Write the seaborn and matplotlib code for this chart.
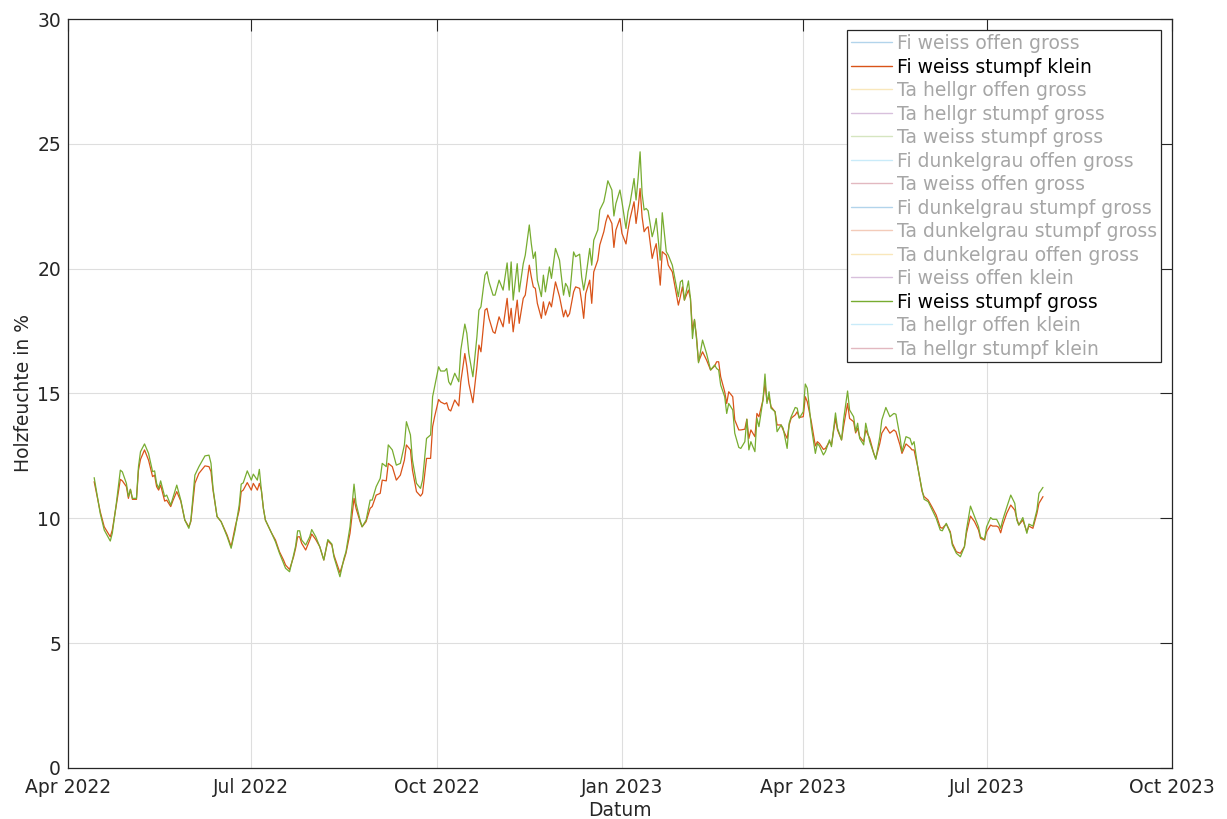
import pandas as pd
import seaborn as sns
import matplotlib.pyplot as plt
import matplotlib.dates as mdates
from matplotlib.lines import Line2D

sns.set_theme(style='white')
plt.rcParams['font.family'] = ['DejaVu Sans']

# Messbeginn, Tage seit 1. April 2022
start = pd.Timestamp('2022-04-01')
tage = [13, 16, 18, 21, 22, 24, 26, 27, 29, 30, 31, 32, 34, 35, 36, 38, 40, 42, 43, 44,
        45, 46, 48, 49, 51, 52, 54, 56, 58, 60, 61, 63, 65, 68, 70, 71, 72, 74, 76, 79,
        81, 83, 85, 86, 87,
        89, 91, 92, 94, 95, 96, 97, 98, 101, 103, 105, 107, 108, 110, 112, 113, 114, 115, 116, 118,
        120, 121, 123, 125, 127, 129, 131, 132, 135, 137, 138, 140, 142, 143, 145, 146, 148, 150, 151, 153,
        155, 156, 158, 159, 161, 163, 165, 167, 168, 170, 171, 173, 175, 176, 178, 180,
        181, 182, 184, 185, 187, 188, 189, 190, 192, 194, 195, 197, 198, 199, 201, 203, 204, 205, 207, 208,
        209, 211, 212, 214, 216, 218, 219, 220, 221, 223, 224, 226, 227, 229, 230, 231, 232, 233, 235, 236,
        237, 239, 240,
        242, 244, 246, 247, 248, 249, 251, 252, 254, 255, 256, 257, 259, 260, 261, 263, 264, 266, 267, 268,
        270, 271, 272, 274, 275, 277, 278, 279, 281, 282, 283, 284, 285, 286, 287, 288, 290, 291, 292, 294,
        295, 297, 298, 300, 303, 304,
        305, 306, 308, 309, 310, 311, 312, 313, 315, 317, 319, 321, 322, 323, 324, 326, 327, 328, 330, 331,
        333, 334, 336, 337, 338, 339, 341, 342, 343, 345, 346, 347, 348, 349, 351, 352, 354, 355, 357, 358,
        359, 361, 362, 363, 365, 366, 367, 369, 371,
        372, 373, 375, 376, 378, 379, 381, 382, 384, 385, 387, 388, 390, 391, 392, 393, 395, 396, 398, 400,
        401, 403, 404, 406, 408, 410, 411, 413, 414, 416, 418, 419, 420, 422,
        424, 425, 427, 429, 431, 433, 434, 436, 438, 439, 441, 443, 445, 446, 448, 450, 452, 453, 455, 456,
        458, 459, 461, 462, 463, 464, 466, 468, 470, 471, 472, 474, 476, 477, 479, 481, 482, 484]

fi_weiss_stumpf_klein = [
    11.47, 10.27, 9.66, 9.26, 9.53, 10.53, 11.56, 11.5, 11.27, 10.8, 11.16, 10.76, 10.76, 11.93, 12.36, 12.74, 12.33, 11.67, 11.73, 11.27,
    11.13, 11.33, 10.69, 10.73, 10.47, 10.69, 11.07, 10.69, 9.93, 9.66, 9.87, 11.4, 11.8, 12.1, 12.07, 11.87, 11.13, 10.07, 9.87, 9.33,
    8.86, 9.66, 10.33, 11.07, 11.13,
    11.43, 11.13, 11.4, 11.13, 11.4, 11.13, 10.4, 9.93, 9.42, 9.13, 8.66, 8.33, 8.13, 7.95, 8.46, 8.8, 9.26, 9.26, 9.0, 8.73,
    9.13, 9.37, 9.15, 8.86, 8.33, 9.1, 8.93, 8.53, 7.82, 8.33, 8.6, 9.4, 10.8, 10.4, 9.87, 9.66, 9.87, 10.4, 10.47, 10.93,
    11.0, 11.53, 11.5, 12.2, 12.07, 11.53, 11.73, 12.33, 12.94, 12.74, 11.93, 11.07, 10.89, 11.0, 12.4, 12.4,
    13.67, 14.07, 14.76, 14.66, 14.58, 14.63, 14.36, 14.3, 14.74, 14.5, 15.47, 16.6, 16.07, 15.4, 14.63, 16.07, 16.94, 16.67, 18.34, 18.41,
    18.01, 17.47, 17.41, 18.07, 17.67, 18.81, 17.81, 18.41, 17.47, 18.74, 17.81, 18.81, 18.94, 20.14, 19.67, 19.27, 19.21, 18.61, 18.01, 18.67,
    18.14, 18.67, 18.47,
    19.47, 18.88, 18.07, 18.34, 18.07, 18.2, 19.07, 19.27, 19.21, 18.67, 18.01, 19.0, 19.54, 18.61, 19.87, 20.34, 20.95, 21.48, 21.88, 22.15,
    21.81, 20.85, 21.55, 22.01, 21.41, 20.99, 21.55, 22.0, 22.68, 21.81, 22.41, 23.21, 22.07, 21.48, 21.61, 21.68, 20.41, 20.74, 21.0, 19.34,
    20.68, 20.54, 20.14, 19.87, 18.54, 18.88,
    19.27, 18.74, 19.14, 18.81, 17.54, 17.94, 17.27, 16.27, 16.67, 16.34, 15.94, 16.1, 16.27, 16.27, 15.67, 15.07, 14.6, 15.07, 14.87, 13.94,
    13.54, 13.54, 13.57, 13.97, 13.2, 13.54, 13.27, 14.2, 14.07, 14.74, 15.4, 14.67, 14.87, 14.47, 14.27, 13.74, 13.74, 13.54, 13.2, 13.74,
    14.01, 14.14, 14.27, 14.04, 14.07, 14.87, 14.67, 13.87, 12.9,
    13.07, 13.0, 12.76, 12.8, 13.07, 12.94, 14.0, 13.54, 13.14, 13.67, 14.6, 14.0, 13.87, 13.42, 13.61, 13.27, 13.07, 13.54, 13.2, 12.6,
    12.4, 13.0, 13.41, 13.67, 13.41, 13.54, 13.47, 12.94, 12.6, 12.98, 12.84, 12.74, 12.74, 12.0,
    11.07, 10.87, 10.73, 10.44, 10.13, 9.64, 9.6, 9.77, 9.46, 9.0, 8.66, 8.6, 8.86, 9.4, 10.09, 9.87, 9.53, 9.2, 9.13, 9.46,
    9.73, 9.69, 9.69, 9.64, 9.42, 9.73, 10.2, 10.53, 10.33, 10.0, 9.73, 9.93, 9.46, 9.69, 9.6, 10.2, 10.6, 10.87]

fi_weiss_stumpf_gross = [
    11.63, 10.2, 9.53, 9.09, 9.4, 10.6, 11.93, 11.86, 11.4, 10.87, 11.16, 10.8, 10.8, 12.07, 12.67, 12.98, 12.6, 11.87, 11.9, 11.4,
    11.2, 11.5, 10.87, 10.93, 10.53, 10.8, 11.33, 10.73, 9.93, 9.6, 9.93, 11.73, 12.07, 12.5, 12.53, 12.2, 11.2, 10.07, 9.87, 9.27,
    8.8, 9.53, 10.53, 11.37, 11.42,
    11.9, 11.53, 11.77, 11.53, 11.96, 11.13, 10.4, 9.93, 9.42, 9.06, 8.6, 8.2, 8.0, 7.86, 8.53, 8.89, 9.5, 9.5, 9.13, 8.93,
    9.26, 9.55, 9.26, 8.86, 8.33, 9.15, 8.97, 8.46, 7.66, 8.4, 8.66, 9.66, 11.37, 10.6, 9.93, 9.66, 9.93, 10.73, 10.73, 11.27,
    11.6, 12.2, 12.07, 12.94, 12.74, 12.13, 12.2, 12.94, 13.87, 13.34, 12.33, 11.4, 11.2, 11.53, 13.2, 13.34,
    14.87, 15.27, 16.07, 15.9, 15.9, 16.0, 15.47, 15.34, 15.81, 15.47, 16.74, 17.78, 17.41, 16.6, 15.67, 17.27, 18.34, 18.47, 19.74, 19.88,
    19.47, 18.94, 18.94, 19.54, 19.14, 20.23, 19.14, 20.27, 18.74, 20.2, 19.07, 20.2, 20.54, 21.75, 21.0, 20.41, 20.67, 19.54, 18.88, 19.74,
    19.07, 20.07, 19.61,
    20.81, 20.34, 18.94, 19.41, 19.27, 18.88, 20.67, 20.48, 20.58, 19.67, 19.14, 19.61, 20.81, 20.14, 21.14, 21.55, 22.35, 22.68, 23.08, 23.52,
    23.15, 22.11, 22.61, 23.15, 22.68, 21.61, 22.28, 22.61, 23.61, 22.75, 23.61, 24.68, 23.01, 22.35, 22.41, 22.32, 21.28, 21.57, 22.01, 20.34,
    22.24, 20.68, 20.54, 20.14, 18.88, 19.47,
    19.54, 18.74, 19.51, 18.81, 17.2, 17.97, 17.2, 16.23, 17.14, 16.6, 15.94, 16.14, 16.0, 15.94, 15.34, 14.87, 14.2, 14.6, 14.34, 13.41,
    12.84, 12.8, 13.07, 13.97, 12.74, 13.07, 12.67, 14.01, 13.67, 14.74, 15.78, 14.6, 15.07, 14.41, 14.27, 13.47, 13.74, 13.61, 12.8, 13.81,
    14.07, 14.44, 14.41, 14.01, 14.27, 15.38, 15.21, 13.67, 12.6,
    13.0, 12.9, 12.54, 12.67, 13.14, 12.87, 14.22, 13.61, 13.14, 13.94, 15.1, 14.34, 14.07, 13.47, 13.81, 13.2, 12.94, 13.81, 13.07, 12.6,
    12.36, 13.27, 13.94, 14.44, 14.07, 14.2, 14.17, 13.27, 12.67, 13.27, 13.2, 12.94, 13.07, 11.96,
    11.13, 10.76, 10.67, 10.33, 10.0, 9.53, 9.5, 9.8, 9.4, 8.93, 8.6, 8.46, 8.86, 9.53, 10.49, 10.07, 9.66, 9.26, 9.15, 9.66,
    10.03, 9.96, 9.96, 9.8, 9.6, 9.93, 10.44, 10.93, 10.6, 9.93, 9.73, 10.03, 9.4, 9.77, 9.69, 10.33, 11.0, 11.24]

sensoren = ['Fi weiss offen gross', 'Fi weiss stumpf klein', 'Ta hellgr offen gross',
            'Ta hellgr stumpf gross', 'Ta weiss stumpf gross', 'Fi dunkelgrau offen gross',
            'Ta weiss offen gross', 'Fi dunkelgrau stumpf gross', 'Ta dunkelgrau stumpf gross',
            'Ta dunkelgrau offen gross', 'Fi weiss offen klein', 'Fi weiss stumpf gross',
            'Ta hellgr offen klein', 'Ta hellgr stumpf klein']
sichtbar = ['Fi weiss stumpf klein', 'Fi weiss stumpf gross']
matlab_farben = ['#0072BD', '#D95319', '#EDB120', '#7E2F8E', '#77AC30', '#4DBEEE', '#A2142F']
farben = {s: matlab_farben[i % 7] for i, s in enumerate(sensoren)}

datum = start + pd.to_timedelta(tage, unit='D')
df = pd.DataFrame({'Datum': datum,
                   'Fi weiss stumpf klein': fi_weiss_stumpf_klein,
                   'Fi weiss stumpf gross': fi_weiss_stumpf_gross})
df = df.melt(id_vars='Datum', var_name='sensor', value_name='holzfeuchte')

fig = plt.figure(figsize=(12.27, 8.19), dpi=100)
ax = fig.add_axes([0.0554, 0.0623, 0.8997, 0.9145])
sns.lineplot(data=df, x='Datum', y='holzfeuchte', hue='sensor', hue_order=sichtbar,
             palette=farben, linewidth=0.9, legend=False, ax=ax)

ax.set_ylim(0, 30)
ax.set_yticks(range(0, 31, 5))
ax.set_xlim(pd.Timestamp('2022-04-01'), pd.Timestamp('2023-10-01'))
ax.set_xticks(pd.date_range('2022-04-01', '2023-10-01', freq='3MS'))
ax.xaxis.set_major_formatter(mdates.DateFormatter('%b %Y'))

ax.grid(True, color='#dedede', linewidth=0.8)
ax.set_axisbelow(True)
for sp in ax.spines.values():
    sp.set_color('#262626')
    sp.set_linewidth(0.9)
ax.tick_params(direction='in', length=8.5, width=0.8, top=True, right=True,
               labelsize=13.5, colors='#262626')
ax.tick_params(axis='x', pad=7)
ax.tick_params(axis='y', pad=5)
ax.set_xlabel('Datum', fontsize=13.5, color='#262626', labelpad=3)
ax.set_ylabel('Holzfeuchte in %', fontsize=13.5, color='#262626', labelpad=3)

handles = [Line2D([], [], color=farben[s], linewidth=1.0,
                  alpha=1.0 if s in sichtbar else 0.3) for s in sensoren]
leg = ax.legend(handles, sensoren, loc='upper right', fontsize=13.5, frameon=True,
                fancybox=False, framealpha=1, edgecolor='#262626', borderaxespad=0.6,
                handlelength=2.2, handletextpad=0.25, labelspacing=0.24, borderpad=0.2)
leg.get_frame().set_linewidth(0.9)
for txt in leg.get_texts():
    txt.set_color('black' if txt.get_text() in sichtbar else '#a6a6a6')

fig.savefig('out.png', dpi=100)
